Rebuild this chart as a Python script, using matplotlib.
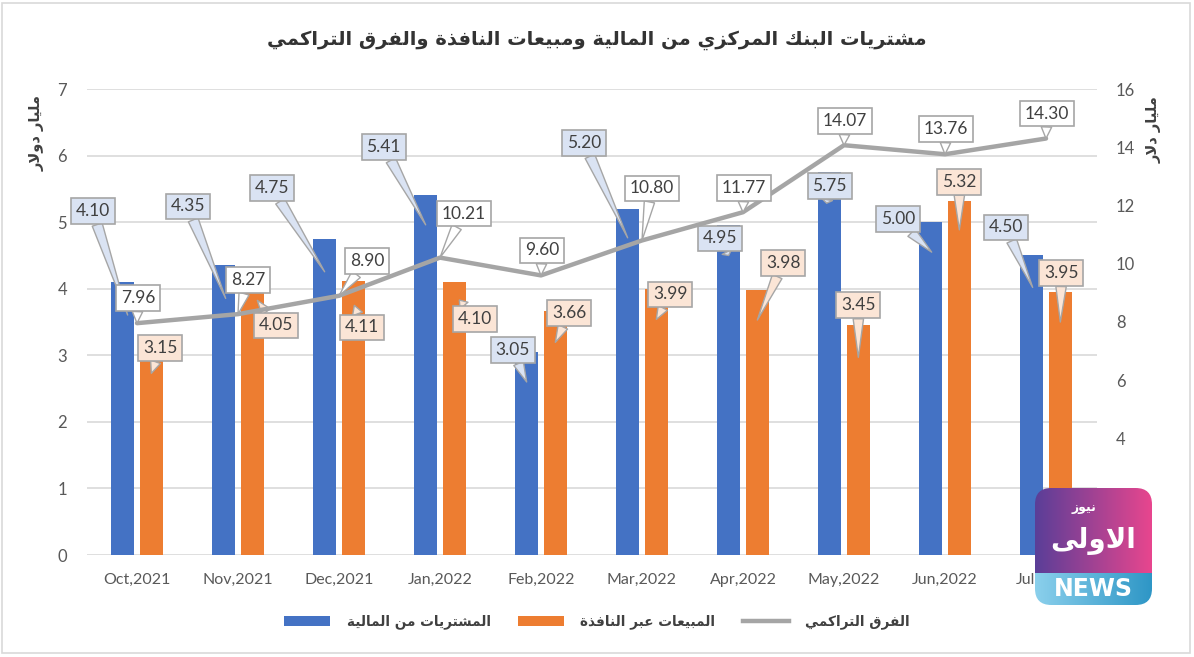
import numpy as np
import matplotlib
matplotlib.use("Agg")
import matplotlib.pyplot as plt
from matplotlib.lines import Line2D
from matplotlib.patches import Patch, FancyBboxPatch, Rectangle
from matplotlib.transforms import offset_copy
from matplotlib.colors import LinearSegmentedColormap

# ---------------- data ----------------
months = ["Oct,2021", "Nov,2021", "Dec,2021", "Jan,2022", "Feb,2022",
          "Mar,2022", "Apr,2022", "May,2022", "Jun,2022", "Jul,2022"]
purchases = [4.10, 4.35, 4.75, 5.41, 3.05, 5.20, 4.95, 5.75, 5.00, 4.50]
sales = [3.15, 4.05, 4.11, 4.10, 3.66, 3.99, 3.98, 3.45, 5.32, 3.95]
cumulative_gap = [7.96, 8.27, 8.90, 10.21, 9.60, 10.80, 11.77, 14.07, 13.76, 14.30]
right_ticks = [4, 6, 8, 10, 12, 14, 16]

title_text = "مشتريات البنك المركزي من المالية ومبيعات النافذة والفرق التراكمي"
left_label = "مليار دولار"
right_label = "مليار دلار"
legend_labels = ["المشتريات من المالية", "المبيعات عبر النافذة", "الفرق التراكمي"]

# ---------------- layout of callouts (pixels, y up) ----------------
blue_tip = [(5, -33), (2, -33), (0, -33), (0, -30), (0, -30), (0, -29), (0, -30), (-3, -31), (1, -30), (1, -32)]
blue_box = [(-30, 71), (-36, 59), (-53, 51), (-42, 48), (-14, 2), (-44, 66), (-9, -13), (0, -14), (-33, 3), (-26, 28)]
orange_tip = [(0, -28), (5, -15), (1, -24), (5, -18), (0, -31), (0, -30), (0, -30), (0, -32), (0, -29), (0, -30)]
orange_box = [(9, -3), (24, -40), (9, -46), (21, -37), (14, -2), (14, -5), (26, 27), (0, 20), (0, 19), (1, 19)]
line_box = [(1, 25), (10, 34), (28, 35), (24, 44), (1, 25), (10, 52), (1, 24), (1, 24), (1, 25), (1, 25)]

# ---------------- minimal Arabic shaping ----------------
DUAL = {'ب': 0xFE8F, 'ت': 0xFE95, 'ث': 0xFE99, 'ج': 0xFE9D, 'ح': 0xFEA1, 'خ': 0xFEA5,
        'س': 0xFEB1, 'ش': 0xFEB5, 'ص': 0xFEB9, 'ض': 0xFEBD, 'ط': 0xFEC1, 'ظ': 0xFEC5,
        'ع': 0xFEC9, 'غ': 0xFECD, 'ف': 0xFED1, 'ق': 0xFED5, 'ك': 0xFED9, 'ل': 0xFEDD,
        'م': 0xFEE1, 'ن': 0xFEE5, 'ه': 0xFEE9, 'ي': 0xFEF1}
RIGHT = {'ا': 0xFE8D, 'ة': 0xFE93, 'د': 0xFEA9, 'ذ': 0xFEAB, 'ر': 0xFEAD, 'ز': 0xFEAF,
         'و': 0xFEED, 'ى': 0xFEEF}


def shape(s):
    chars = list(s)
    n = len(chars)
    out = []
    i = 0
    is_ar = lambda c: c in DUAL or c in RIGHT
    while i < n:
        c = chars[i]
        if not is_ar(c):
            out.append(c)
            i += 1
            continue
        prev = chars[i - 1] if i > 0 else None
        jp = prev is not None and prev in DUAL
        if c == 'ل' and i + 1 < n and chars[i + 1] == 'ا':
            out.append('\uFEFC' if jp else '\uFEFB')
            i += 2
            continue
        nxt = chars[i + 1] if i + 1 < n else None
        jn = c in DUAL and nxt is not None and is_ar(nxt)
        if c in DUAL:
            b = DUAL[c]
            f = b + 3 if (jp and jn) else b + 1 if jp else b + 2 if jn else b
        else:
            b = RIGHT[c]
            f = b + 1 if jp else b
        out.append(chr(f))
        i += 1
    return ''.join(reversed(out))


AR_FONT = ['DejaVu Sans']
NUM_FONT = ['Lato', 'DejaVu Sans']

BLUE = '#4472C4'
ORANGE = '#ED7D31'
GRAY = '#A5A5A5'

fig = plt.figure(figsize=(11.94, 6.57), dpi=100)
fig.patch.set_facecolor('white')

ax = fig.add_axes([86.5 / 1194, 102 / 657, 1010 / 1194, 466 / 657])
ax2 = ax.twinx()

x = np.arange(len(months))
bw = 0.225
off = 0.142
ax.bar(x - off, purchases, bw, color=BLUE, zorder=2)
ax.bar(x + off, sales, bw, color=ORANGE, zorder=2)
ax.set_xlim(-0.5, len(months) - 0.5)
ax.set_ylim(0, 7)
ax.set_yticks(range(0, 8))
ax.yaxis.grid(True, color='#D9D9D9', linewidth=1.2, zorder=0)
ax.set_axisbelow(True)
for s in ax.spines.values():
    s.set_visible(False)
ax.set_xticks(x)
ax.set_xticklabels(months, fontsize=11.5, color='#595959', family=NUM_FONT)
ax.tick_params(axis='x', length=0, pad=13)
ax.tick_params(axis='y', length=0, pad=14, labelsize=12, labelcolor='#595959')
for t in ax.get_yticklabels():
    t.set_family(NUM_FONT)

ax2.plot(x, cumulative_gap, color=GRAY, linewidth=3.2, solid_capstyle='round', zorder=3)
ax2.set_ylim(0, 16)
ax2.set_yticks(right_ticks)
for s in ax2.spines.values():
    s.set_visible(False)
ax2.tick_params(axis='y', length=0, pad=14, labelsize=12, labelcolor='#595959')
for t in ax2.get_yticklabels():
    t.set_family(NUM_FONT)


def callout(axis, xv, yv, text, tip, box, fc):
    tr = offset_copy(axis.transData, fig=fig, x=tip[0], y=tip[1], units='dots')
    axis.annotate(text, xy=(xv, yv), xycoords=tr,
                  xytext=(box[0] - tip[0], box[1] - tip[1]), textcoords='offset pixels',
                  ha='center', va='center', fontsize=12.5, color='#404040', family=NUM_FONT,
                  bbox=dict(boxstyle='square,pad=0.28', fc=fc, ec='#A6A6A6', lw=1.2),
                  arrowprops=dict(arrowstyle='wedge,tail_width=0.6', fc=fc, ec='#A6A6A6',
                                  lw=1.0, shrinkA=0, shrinkB=0),
                  annotation_clip=False, zorder=5)


for i in range(len(months)):
    callout(ax, x[i] - off, purchases[i], f"{purchases[i]:.2f}", blue_tip[i], blue_box[i], '#DAE3F3')
for i in range(len(months)):
    callout(ax, x[i] + off, sales[i], f"{sales[i]:.2f}", orange_tip[i], orange_box[i], '#FBE5D6')
for i in range(len(months)):
    callout(ax2, x[i], cumulative_gap[i], f"{cumulative_gap[i]:.2f}", (0, 0), line_box[i], 'white')
ax2.set_zorder(ax.get_zorder() + 1)
ax.patch.set_visible(False)

# title & axis titles
fig.text(0.5, 1 - 40 / 657, shape(title_text), ha='center', va='center',
         fontsize=14, fontweight='bold', color='#333333', family=AR_FONT)
fig.text(37 / 1194, 1 - 133 / 657, shape(left_label), rotation=90, ha='center', va='center',
         fontsize=10.5, fontweight='bold', color='#404040', family=AR_FONT)
fig.text(1154 / 1194, 1 - 130 / 657, shape(right_label), rotation=90, ha='center', va='center',
         fontsize=10.5, fontweight='bold', color='#404040', family=AR_FONT)

# legend
handles = [Patch(facecolor=BLUE), Patch(facecolor=ORANGE), Line2D([0], [0], color=GRAY, lw=3.2)]
leg = fig.legend(handles, [shape(l) for l in legend_labels], loc='center',
                 bbox_to_anchor=(0.5, 1 - 622 / 657), ncol=3, frameon=False,
                 prop={'family': AR_FONT, 'size': 9.8, 'weight': 'bold'},
                 handlelength=3.4, handleheight=0.8, handletextpad=1.2, columnspacing=2.0)
for t in leg.get_texts():
    t.set_color('#404040')

# figure border
fig.add_artist(Rectangle((0.002, 0.006), 0.995, 0.99, transform=fig.transFigure,
                         fill=False, ec='#D9D9D9', lw=1.2))

# watermark logo
lx, ly, lw_, lh = 1035 / 1194, 1 - 605 / 657, 117 / 1194, 117 / 657
lax = fig.add_axes([lx, ly, lw_, lh])
lax.set_zorder(20)
lax.set_xlim(0, 1)
lax.set_ylim(0, 1)
lax.axis('off')
clip = FancyBboxPatch((0.0, 0.0), 1, 1, boxstyle='round,pad=0,rounding_size=0.14',
                      transform=lax.transData, fc='none', ec='none')
lax.add_patch(clip)
grad = np.linspace(0, 1, 256).reshape(1, -1)
cm_top = LinearSegmentedColormap.from_list('t', ['#5A3E98', '#E8468E'])
cm_bot = LinearSegmentedColormap.from_list('b', ['#8BD0EC', '#2E96C6'])
im1 = lax.imshow(grad, cmap=cm_top, extent=(0, 1, 0.27, 1), aspect='auto', zorder=1)
im2 = lax.imshow(grad, cmap=cm_bot, extent=(0, 1, 0, 0.27), aspect='auto', zorder=1)
im1.set_clip_path(clip)
im2.set_clip_path(clip)
lax.text(0.5, 0.135, 'NEWS', ha='center', va='center', color='white', fontsize=17,
         fontweight='bold', family=['DejaVu Sans'], zorder=2)
lax.text(0.5, 0.55, shape('الاولى'), ha='center', va='center', color='white', fontsize=20,
         fontweight='bold', family=AR_FONT, zorder=2)
lax.text(0.42, 0.83, shape('نيوز'), ha='center', va='center', color='white', fontsize=9,
         fontweight='bold', family=AR_FONT, zorder=2)

fig.savefig('out.png', dpi=100, facecolor='white')
